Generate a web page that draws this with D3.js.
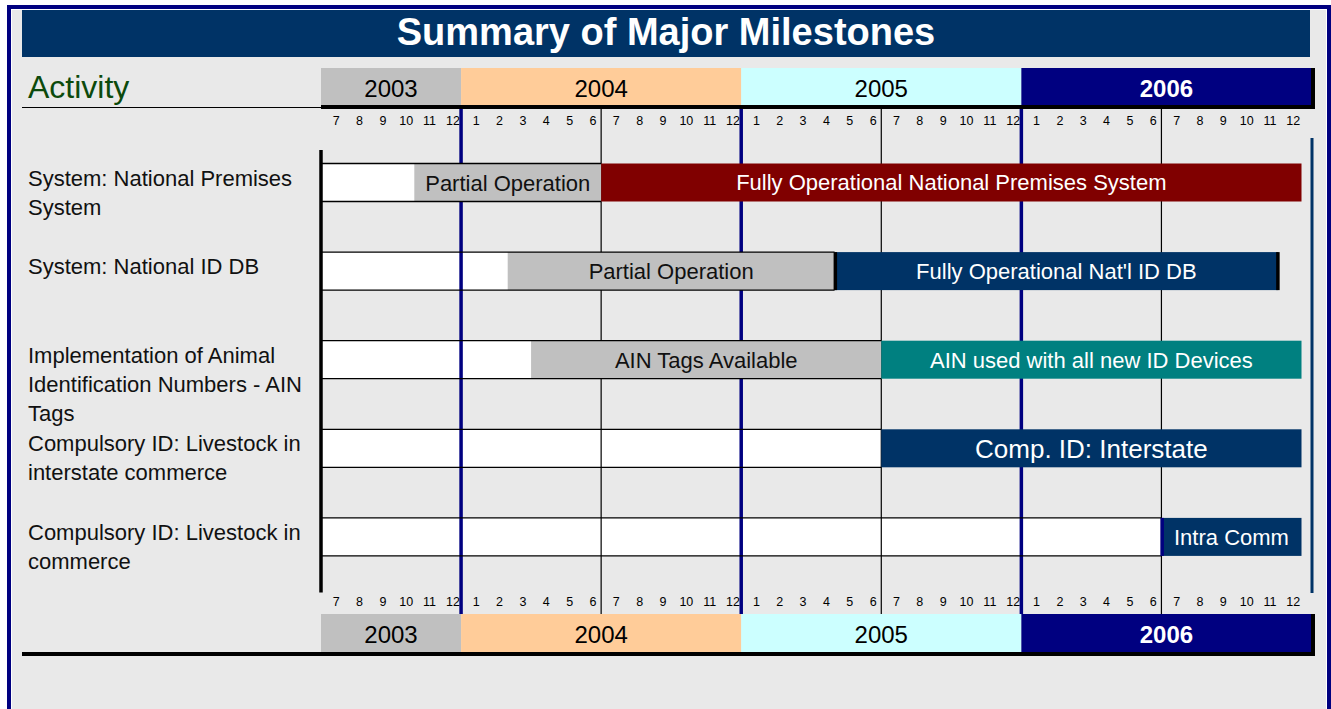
<!DOCTYPE html>
<html>
<head>
<meta charset="utf-8">
<script src="https://cdnjs.cloudflare.com/ajax/libs/d3/7.8.5/d3.min.js"></script>
<style>
body { margin: 0; background: #fff; }
svg { display: block; font-family: "Liberation Sans", Arial, sans-serif; }
</style>
</head>
<body>
<script>
// ---- data ----
var title = "Summary of Major Milestones";
var years = [2003, 2004, 2005, 2006];
var firstMonth = "2003-07";
var lastMonth = "2006-12";

var activities = [
	["System: National Premises", "System"],
	["System: National ID DB"],
	["Implementation of Animal", "Identification Numbers - AIN", "Tags"],
	["Compulsory ID: Livestock in", "interstate commerce"],
	["Compulsory ID: Livestock in", "commerce"]
];
var partialStart = ["2003-11", "2004-03", "2004-04", null, null];
var partialLabels = ["Partial Operation", "Partial Operation", "AIN Tags Available", null, null];
var fullStart = ["2004-07", "2005-05", "2005-07", "2005-07", "2006-07"];
var fullEnd = ["2006-12", "2006-11", "2006-12", "2006-12", "2006-12"];
var fullLabels = [
	"Fully Operational National Premises System",
	"Fully Operational Nat'l ID DB",
	"AIN used with all new ID Devices",
	"Comp. ID: Interstate",
	"Intra Comm"
];

// ---- styles ----
var yearFill = ["#c0c0c0", "#ffcc99", "#ccffff", "#000080"];
var yearText = ["#000", "#000", "#000", "#fff"];
var fullFill = ["#800000", "#003366", "#008080", "#003366", "#003366"];
var fullFont = {"Comp. ID: Interstate": 26};
var fullEdge = {
	"Fully Operational Nat'l ID DB": {color: "#000", left: true, right: true},
	"Intra Comm": {color: "#000080", left: true, right: false}
};

var width = 1331;
var height = 709;

function monthIndex(s) {
	var p = s.split("-"), f = firstMonth.split("-");
	return (+p[0] - +f[0]) * 12 + (+p[1] - +f[1]);
}
var nMonths = monthIndex(lastMonth) + 1;

var x = d3.scaleLinear().domain([0, nMonths]).range([321, 1301.5]);
var y = d3.scaleBand().domain(d3.range(activities.length)).range([152, 595]);
var barOff = 11.5, barH = 38;

var svg = d3.select("body").append("svg")
	.attr("width", width)
	.attr("height", height);

// frame
svg.append("rect")
	.attr("x", 9).attr("y", 7)
	.attr("width", 1320).attr("height", 760)
	.attr("fill", "#e9e9e9")
	.attr("stroke", "#000080")
	.attr("stroke-width", 4);
svg.append("rect")
	.attr("x", 11.5).attr("y", 9.5)
	.attr("width", 1315).attr("height", 760)
	.attr("fill", "none")
	.attr("stroke", "#fff")
	.attr("stroke-width", 1);

// title
svg.append("rect")
	.attr("x", 22).attr("y", 10)
	.attr("width", 1288).attr("height", 47)
	.attr("fill", "#003366");
svg.append("text")
	.attr("x", 666).attr("y", 45)
	.attr("text-anchor", "middle")
	.attr("fill", "#fff")
	.attr("font-size", "38px")
	.attr("font-weight", "bold")
	.text(title);

svg.append("text")
	.attr("x", 28).attr("y", 98)
	.attr("fill", "#0c4a0c")
	.attr("font-size", "32px")
	.text("Activity");
svg.append("line")
	.attr("x1", 22).attr("x2", 321)
	.attr("y1", 107.5).attr("y2", 107.5)
	.attr("stroke", "#000").attr("stroke-width", 1.2);

// year bands (top and bottom)
function yearBands(top, lineY, lineX0) {
	var g = svg.append("g");
	g.selectAll("rect.year")
		.data(years)
		.enter()
		.append("rect")
		.attr("class", "year")
		.attr("x", function(d) {
			return x(Math.max(0, monthIndex(d + "-01")));
		})
		.attr("y", top)
		.attr("width", function(d, i) {
			var a = x(Math.max(0, monthIndex(d + "-01")));
			var b = x(Math.min(nMonths, monthIndex((d + 1) + "-01")));
			return b - a + (i == years.length - 1 ? 10 : 0);
		})
		.attr("height", 38)
		.attr("fill", function(d, i) { return yearFill[i]; });
	g.selectAll("text")
		.data(years)
		.enter()
		.append("text")
		.attr("x", function(d, i) {
			var a = x(Math.max(0, monthIndex(d + "-01")));
			var b = x(Math.min(nMonths, monthIndex((d + 1) + "-01"))) + (i == years.length - 1 ? 10 : 0);
			return (a + b) / 2;
		})
		.attr("y", top + 29)
		.attr("text-anchor", "middle")
		.attr("font-size", "24px")
		.attr("font-weight", function(d, i) { return i == years.length - 1 ? "bold" : "normal"; })
		.attr("fill", function(d, i) { return yearText[i]; })
		.text(function(d) { return d; });
	g.append("rect")
		.attr("x", lineX0).attr("y", lineY)
		.attr("width", 1315 - lineX0).attr("height", 4)
		.attr("fill", "#000");
	g.append("rect")
		.attr("x", 1311).attr("y", top)
		.attr("width", 4).attr("height", lineY + 4 - top)
		.attr("fill", "#000");
}
yearBands(68, 105, 321);
yearBands(614, 652, 22);

// month labels
var monthAxis = d3.axisTop(x)
	.tickValues(d3.range(nMonths).map(function(i) { return i + 0.5; }))
	.tickSize(0)
	.tickPadding(0)
	.tickFormat(function(d) {
		return ((Math.floor(d) + 6) % 12) + 1;
	});

[125, 606].forEach(function(ty) {
	var ax = svg.append("g")
		.attr("transform", "translate(0," + ty + ")")
		.call(monthAxis);
	ax.select(".domain").remove();
	ax.selectAll("text")
		.attr("font-size", "12.5px")
		.attr("font-family", "Liberation Sans, Arial, sans-serif")
		.attr("fill", "#000")
		.attr("dx", 3);
});

// rows: pending (white) and partial (grey) parts
var rows = activities.map(function(lines, i) {
	var p = partialStart[i] ? monthIndex(partialStart[i]) : null;
	var f = monthIndex(fullStart[i]);
	return {
		i: i,
		lines: lines,
		pendEnd: p !== null ? p : f,
		partStart: p,
		fullStart: f,
		fullEnd: monthIndex(fullEnd[i]) + 1
	};
});

svg.selectAll("rect.pending")
	.data(rows)
	.enter()
	.append("rect")
	.attr("class", "pending")
	.attr("x", x(0))
	.attr("y", function(d) { return y(d.i) + barOff; })
	.attr("width", function(d) { return x(d.pendEnd) - x(0); })
	.attr("height", barH)
	.attr("fill", "#fff");

// grid lines every half year, year boundaries in navy
var gridMonths = d3.range(6, nMonths, 6);
function isYearStart(m) { return (m + 6) % 12 == 0; }
svg.selectAll("line.grid")
	.data(gridMonths)
	.enter()
	.append("line")
	.attr("class", "grid")
	.attr("x1", function(d) { return x(d); })
	.attr("x2", function(d) { return x(d); })
	.attr("y1", 109)
	.attr("y2", 614)
	.attr("stroke", function(d) { return isYearStart(d) ? "#000080" : "#000"; })
	.attr("stroke-width", function(d) { return isYearStart(d) ? 3.5 : 1.2; });

var partial = rows.filter(function(d) { return d.partStart !== null; });
svg.selectAll("rect.partial")
	.data(partial)
	.enter()
	.append("rect")
	.attr("class", "partial")
	.attr("x", function(d) { return x(d.partStart); })
	.attr("y", function(d) { return y(d.i) + barOff; })
	.attr("width", function(d) { return x(d.fullStart) - x(d.partStart); })
	.attr("height", barH)
	.attr("fill", "#c0c0c0");
svg.selectAll("text.partial")
	.data(partial)
	.enter()
	.append("text")
	.attr("class", "partial")
	.attr("x", function(d) { return (x(d.partStart) + x(d.fullStart)) / 2; })
	.attr("y", function(d) { return y(d.i) + barOff + 27; })
	.attr("text-anchor", "middle")
	.attr("font-size", "22px")
	.attr("fill", "#111")
	.text(function(d) { return partialLabels[d.i]; });

// row borders
[0, barH].forEach(function(off) {
	svg.selectAll("line.border" + off)
		.data(rows)
		.enter()
		.append("line")
		.attr("x1", x(0))
		.attr("x2", function(d) { return x(d.fullStart); })
		.attr("y1", function(d) { return y(d.i) + barOff + off; })
		.attr("y2", function(d) { return y(d.i) + barOff + off; })
		.attr("stroke", "#000")
		.attr("stroke-width", 1.3);
});

// fully operational bars
svg.selectAll("rect.full")
	.data(rows)
	.enter()
	.append("rect")
	.attr("class", "full")
	.attr("x", function(d) { return x(d.fullStart); })
	.attr("y", function(d) { return y(d.i) + barOff; })
	.attr("width", function(d) { return x(d.fullEnd) - x(d.fullStart); })
	.attr("height", barH)
	.attr("fill", function(d) { return fullFill[d.i]; });

rows.forEach(function(d) {
	var e = fullEdge[fullLabels[d.i]];
	if (!e) return;
	if (e.left) {
		svg.append("rect")
			.attr("x", x(d.fullStart) - 1).attr("y", y(d.i) + barOff)
			.attr("width", 3.5).attr("height", barH)
			.attr("fill", e.color);
	}
	if (e.right) {
		svg.append("rect")
			.attr("x", x(d.fullEnd) - 2).attr("y", y(d.i) + barOff)
			.attr("width", 3.5).attr("height", barH)
			.attr("fill", e.color);
	}
});

svg.selectAll("text.full")
	.data(rows)
	.enter()
	.append("text")
	.attr("class", "full")
	.attr("x", function(d) { return (x(d.fullStart) + x(d.fullEnd)) / 2; })
	.attr("y", function(d) {
		var fs = fullFont[fullLabels[d.i]] || 22;
		return y(d.i) + barOff + barH / 2 + fs * 0.36;
	})
	.attr("text-anchor", "middle")
	.attr("font-size", function(d) { return (fullFont[fullLabels[d.i]] || 22) + "px"; })
	.attr("fill", "#fff")
	.text(function(d) { return fullLabels[d.i]; });

// activity labels
var labels = svg.selectAll("text.activity")
	.data(rows)
	.enter()
	.append("text")
	.attr("class", "activity")
	.attr("x", 28)
	.attr("y", function(d) { return y(d.i) + barOff + 22; })
	.attr("font-size", "22px")
	.attr("fill", "#111");
labels.selectAll("tspan")
	.data(function(d) { return d.lines; })
	.enter()
	.append("tspan")
	.attr("x", 28)
	.attr("dy", function(d, i) { return i == 0 ? 0 : 29; })
	.text(function(d) { return d; });

// left and right edges of the timeline
svg.append("line")
	.attr("x1", 321).attr("x2", 321)
	.attr("y1", 150).attr("y2", 592.5)
	.attr("stroke", "#000").attr("stroke-width", 3.5);
svg.append("line")
	.attr("x1", 1312).attr("x2", 1312)
	.attr("y1", 138).attr("y2", 593)
	.attr("stroke", "#003366").attr("stroke-width", 3);
</script>
</body>
</html>
